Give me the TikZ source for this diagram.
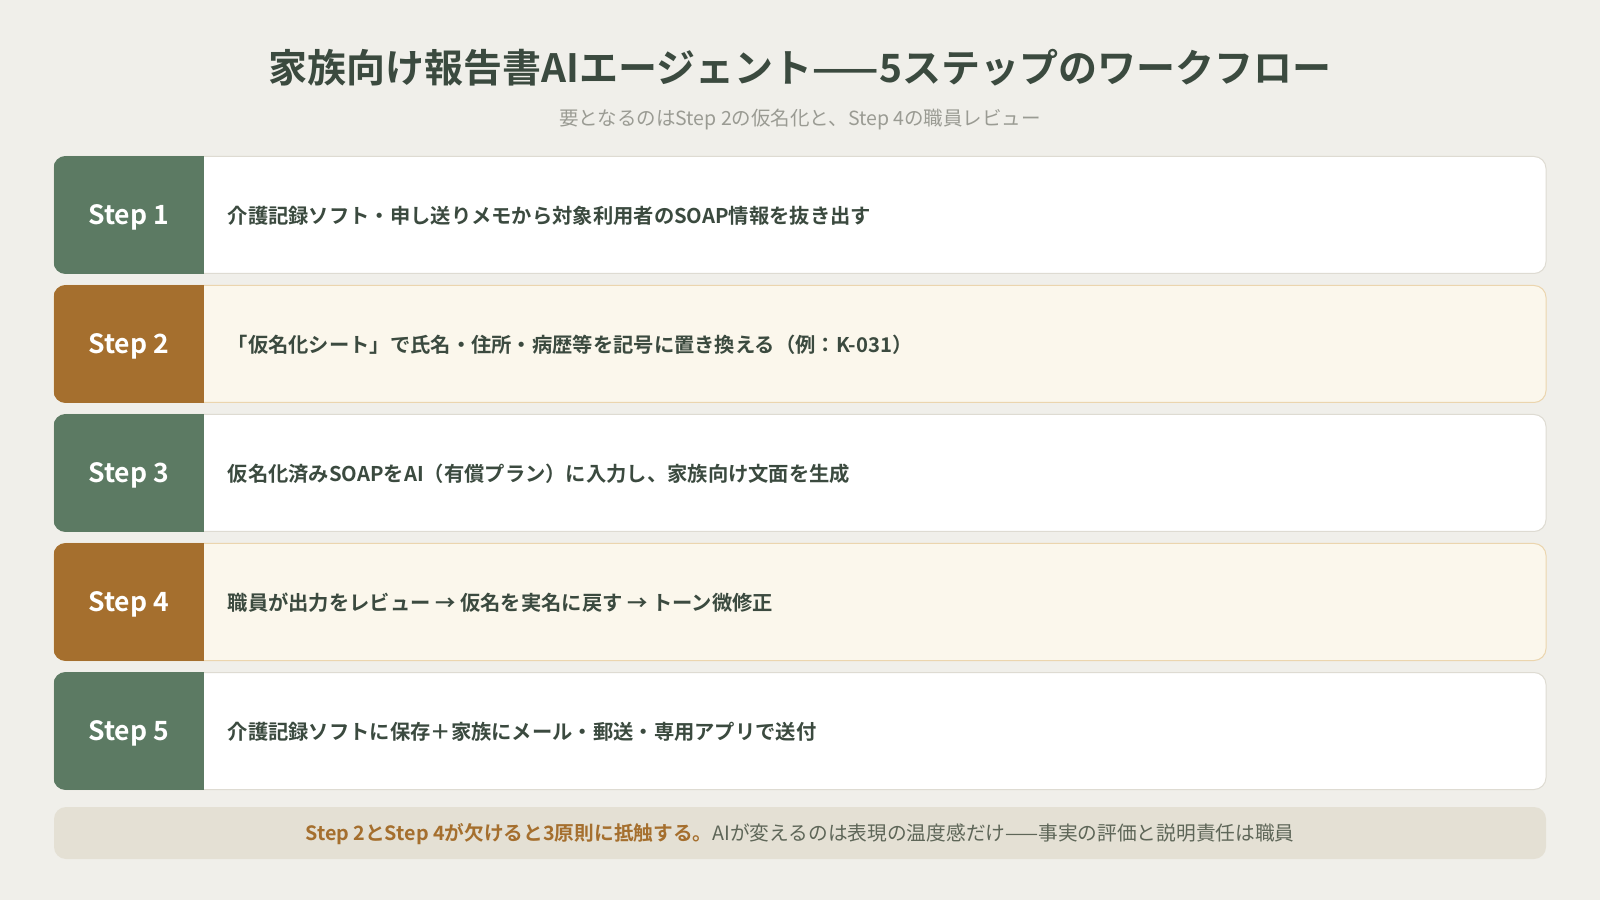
\documentclass[tikz,border=0pt]{standalone}
\usepackage{fontspec}
\setmainfont{Noto Sans CJK JP}
\newfontfamily\jpbold{Noto Sans CJK JP Bold}
\usetikzlibrary{positioning}
\definecolor{bgpaper}{HTML}{F0EFEA}
\definecolor{inkdark}{HTML}{3B4A3F}
\definecolor{inkgray}{HTML}{9A9B93}
\definecolor{stepgreen}{HTML}{5C7A63}
\definecolor{stepbrown}{HTML}{A56F2E}
\definecolor{cardline}{HTML}{DEDBD2}
\definecolor{warmfill}{HTML}{FBF7EC}
\definecolor{warmline}{HTML}{EBD5AE}
\definecolor{notefill}{HTML}{E4E0D4}
\definecolor{noteink}{HTML}{5E6658}

\begin{document}
\begin{tikzpicture}[
    x=1pt, y=1pt,
    card/.style={rectangle, rounded corners=12pt, minimum width=1492pt, minimum height=117pt, inner sep=0pt},
    plaincard/.style={card, fill=white, draw=cardline, line width=1pt},
    warmcard/.style={card, fill=warmfill, draw=warmline, line width=1pt},
    steplbl/.style={font=\jpbold\fontsize{26.5}{30}\selectfont, text=white},
    steptxt/.style={font=\jpbold\fontsize{20.3}{24}\selectfont, text=inkdark, anchor=west, inner sep=0pt}
]
    % background
    \fill[bgpaper] (0,0) rectangle (1600,900);
    \useasboundingbox (0,0) rectangle (1600,900);

    % title
    \node[font=\jpbold\fontsize{39}{46}\selectfont, text=inkdark] (title) at (800,832) {家族向け報告書AIエージェント——5ステップのワークフロー};
    \node[font=\fontsize{19.5}{22}\selectfont, text=inkgray] (subtitle) at (800,780) {要となるのはStep 2の仮名化と、Step 4の職員レビュー};

    % 5 steps
    \foreach \i/\kind/\col/\txt in {
        1/plaincard/stepgreen/{介護記録ソフト・申し送りメモから対象利用者のSOAP情報を抜き出す},
        2/warmcard/stepbrown/{「仮名化シート」で氏名・住所・病歴等を記号に置き換える（例：K-031）},
        3/plaincard/stepgreen/{仮名化済みSOAPをAI（有償プラン）に入力し、家族向け文面を生成},
        4/warmcard/stepbrown/{職員が出力をレビュー → 仮名を実名に戻す → トーン微修正},
        5/plaincard/stepgreen/{介護記録ソフトに保存＋家族にメール・郵送・専用アプリで送付}} {
        \node[\kind] (card\i) at (800, 814-129*\i) {};
        \begin{scope}
            \clip[rounded corners=12pt] (card\i.south west) rectangle (card\i.north east);
            \fill[\col] (card\i.south west) rectangle ([xshift=150pt]card\i.north west);
        \end{scope}
        \node[steplbl] (lbl\i) at ([xshift=75pt, yshift=-2.5pt]card\i.west) {Step \i};
        \node[steptxt] (txt\i) at ([xshift=174pt, yshift=-1pt]card\i.west) {\txt};
    }

    % takeaway
    \node[rectangle, rounded corners=12pt, fill=notefill, minimum width=1492pt, minimum height=52pt] (note) at (800,67) {};
    \node[font=\fontsize{19.7}{24}\selectfont, text=noteink] (notetxt) at ([yshift=-1pt]note.center)
        {{\jpbold\color{stepbrown}Step 2とStep 4が欠けると3原則に抵触する。}AIが変えるのは表現の温度感だけ——事実の評価と説明責任は職員};
\end{tikzpicture}
\end{document}
